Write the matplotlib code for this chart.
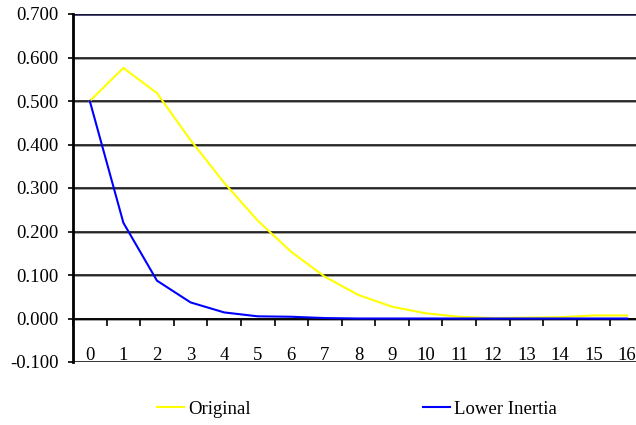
import numpy as np
import matplotlib
matplotlib.use("Agg")
import matplotlib.pyplot as plt
import matplotlib.patheffects as pe
from matplotlib import transforms

categories = [str(i) for i in range(17)]
original = [0.500, 0.576, 0.518, 0.410, 0.312, 0.225, 0.153, 0.096, 0.054,
            0.027, 0.012, 0.004, 0.001, 0.002, 0.003, 0.007, 0.007]
lower_inertia = [0.500, 0.220, 0.087, 0.037, 0.014, 0.005, 0.004, 0.001, 0.000,
                 0.000, 0.000, 0.000, 0.000, 0.000, 0.000, 0.000, 0.000]
y_ticks = [-0.1, 0.0, 0.1, 0.2, 0.3, 0.4, 0.5, 0.6, 0.7]
y_labels = ["-0.100", "0.000", "0.100", "0.200", "0.300", "0.400", "0.500", "0.600", "0.700"]

plt.rcParams['font.family'] = ['Liberation Serif', 'DejaVu Serif']
FS = 13.5

W, H = 636, 425
fig = plt.figure(figsize=(W / 100, H / 100), dpi=100)
left_px, right_px, top_px, bot_px = 73, 644, 14, 362
ax = fig.add_axes([left_px / W, (H - bot_px) / H, (right_px - left_px) / W, (bot_px - top_px) / H])

x = np.arange(len(categories))
ax.set_xlim(-0.5, len(categories) - 0.5)
ax.set_ylim(-0.1, 0.7)

# horizontal gridlines with a slight shadow
shadow = [pe.SimpleLineShadow(offset=(0, -0.8), shadow_color='#888888', alpha=1.0), pe.Normal()]
for yv in y_ticks[:-1]:
    ax.axhline(yv, color='black', lw=1.1, zorder=1, path_effects=shadow)
ax.axhline(0.7, color='#14143c', lw=1.8, zorder=1)

ax.plot(x, original, color='#FFFF00', lw=1.5, zorder=3, label='Original')
ax.plot(x, lower_inertia, color='#0000FF', lw=1.5, zorder=4, label='Lower Inertia')

# spines
for s in ['top', 'right']:
    ax.spines[s].set_visible(False)
ax.spines['left'].set_linewidth(2.0)
ax.spines['left'].set_color('black')
ax.spines['bottom'].set_position(('data', 0))
ax.spines['bottom'].set_linewidth(1.1)
ax.spines['bottom'].set_zorder(2)

ax.set_yticks(y_ticks)
ax.set_yticklabels(y_labels, fontsize=FS)
ax.tick_params(axis='y', direction='out', length=3.6, width=1.2, pad=7, color='black')

ax.set_xticks(np.arange(-0.5, len(categories), 1.0))
ax.set_xticklabels([])
ax.tick_params(axis='x', direction='out', length=5, width=1.2, color='black')

off = transforms.offset_copy(ax.transData, fig=fig, x=0, y=2, units='dots')
for xi, lab in zip(x, categories):
    ax.text(xi, -0.1, lab, ha='center', va='baseline', fontsize=FS, transform=off, zorder=5)

leg = fig.legend(loc='center left', bbox_to_anchor=(157 / W, (H - 409) / H),
                 ncol=2, frameon=False, fontsize=FS, handlelength=1.45,
                 handletextpad=0.2, columnspacing=9.2, borderpad=0, borderaxespad=0)

fig.savefig('out.png', dpi=100)
